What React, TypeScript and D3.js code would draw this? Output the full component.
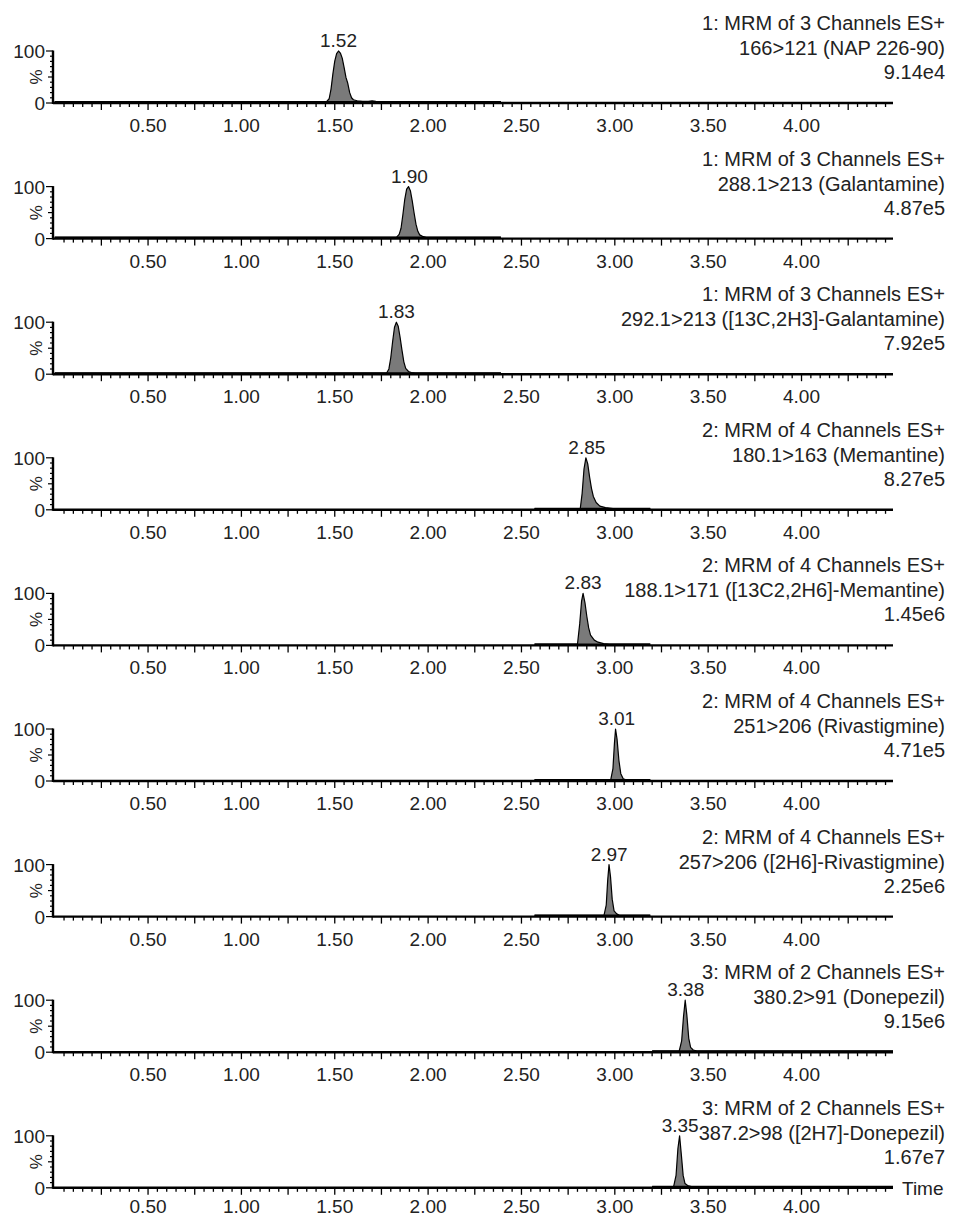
import React from 'react';
import * as d3 from 'd3';

// ---------- data ----------
const timeTickValues = [0.5, 1.0, 1.5, 2.0, 2.5, 3.0, 3.5, 4.0];
const timeDomain: [number, number] = [0, 4.49];

const channelHeaders = [
  '1: MRM of 3 Channels ES+',
  '1: MRM of 3 Channels ES+',
  '1: MRM of 3 Channels ES+',
  '2: MRM of 4 Channels ES+',
  '2: MRM of 4 Channels ES+',
  '2: MRM of 4 Channels ES+',
  '2: MRM of 4 Channels ES+',
  '3: MRM of 2 Channels ES+',
  '3: MRM of 2 Channels ES+',
];
const transitions = [
  '166>121 (NAP 226-90)',
  '288.1>213 (Galantamine)',
  '292.1>213 ([13C,2H3]-Galantamine)',
  '180.1>163 (Memantine)',
  '188.1>171 ([13C2,2H6]-Memantine)',
  '251>206 (Rivastigmine)',
  '257>206 ([2H6]-Rivastigmine)',
  '380.2>91 (Donepezil)',
  '387.2>98 ([2H7]-Donepezil)',
];
const maxIntensities = ['9.14e4', '4.87e5', '7.92e5', '8.27e5', '1.45e6', '4.71e5', '2.25e6', '9.15e6', '1.67e7'];
const peakTimes = [1.52, 1.9, 1.83, 2.85, 2.83, 3.01, 2.97, 3.38, 3.35];
const scanWindows: [number, number][] = [
  [0, 2.39], [0, 2.39], [0, 2.39],
  [2.57, 3.19], [2.57, 3.19], [2.57, 3.19], [2.57, 3.19],
  [3.2, 4.49], [3.2, 4.49],
];

// peak profiles: [time (min), relative intensity (%)]
const napPeak: [number, number][] = [
  [1.455, 0], [1.47, 6], [1.48, 25], [1.49, 55], [1.50, 80], [1.51, 95], [1.52, 100], [1.53, 96],
  [1.54, 86], [1.55, 68], [1.56, 48], [1.57, 36], [1.58, 18], [1.59, 8], [1.60, 4], [1.62, 2],
  [1.65, 1], [1.68, 1], [1.70, 2], [1.72, 1], [1.75, 0],
];
const galantaminePeak: [number, number][] = [
  [1.83, 0], [1.845, 6], [1.855, 18], [1.865, 45], [1.875, 75], [1.885, 95], [1.895, 100],
  [1.905, 92], [1.915, 72], [1.925, 48], [1.935, 26], [1.945, 12], [1.955, 5], [1.97, 2],
  [1.99, 0],
];
const galantamineISPeak: [number, number][] = [
  [1.778, 0], [1.79, 8], [1.80, 30], [1.81, 62], [1.82, 90], [1.83, 100], [1.84, 92],
  [1.85, 70], [1.86, 45], [1.87, 22], [1.88, 9], [1.895, 3], [1.91, 1], [1.93, 0],
];
const memantinePeak: [number, number][] = [
  [2.815, 0], [2.825, 30], [2.835, 78], [2.845, 100], [2.855, 88], [2.865, 62], [2.875, 40],
  [2.885, 24], [2.90, 12], [2.92, 5], [2.95, 2], [2.99, 0],
];
const memantineISPeak: [number, number][] = [
  [2.80, 0], [2.812, 40], [2.822, 85], [2.83, 100], [2.84, 82], [2.85, 55], [2.86, 32],
  [2.87, 18], [2.89, 8], [2.91, 4], [2.94, 1], [2.97, 0],
];
const rivastigminePeak: [number, number][] = [
  [2.978, 0], [2.99, 22], [2.998, 72], [3.004, 100], [3.012, 80], [3.022, 38], [3.032, 12],
  [3.045, 2], [3.06, 0],
];
const rivastigmineISPeak: [number, number][] = [
  [2.942, 0], [2.954, 20], [2.962, 70], [2.969, 100], [2.977, 76], [2.986, 32], [2.996, 9],
  [3.01, 3], [3.025, 0],
];
const donepezilPeak: [number, number][] = [
  [3.345, 0], [3.358, 20], [3.368, 68], [3.377, 100], [3.386, 70], [3.396, 25], [3.406, 7],
  [3.42, 2], [3.44, 0],
];
const donepezilISPeak: [number, number][] = [
  [3.315, 0], [3.328, 22], [3.338, 75], [3.347, 100], [3.356, 64], [3.366, 22], [3.376, 6],
  [3.39, 2], [3.41, 0],
];
const peaks = [
  napPeak, galantaminePeak, galantamineISPeak, memantinePeak, memantineISPeak,
  rivastigminePeak, rivastigmineISPeak, donepezilPeak, donepezilISPeak,
];

// ---------- layout ----------
const W = 955;
const H = 1218;
const FONT = "'Liberation Sans', Arial, Helvetica, sans-serif";
const FS = 19;
const HFS = 20;
const TEXT = '#222';

function Panel({ i, base }: { i: number; base: number }) {
  const x = d3.scaleLinear().domain(timeDomain).range([54.7, 893]);
  const yAxis = d3.scaleLinear().domain([0, 100]).range([base, base - 52]);
  const y = d3.scaleLinear().domain([0, 100]).range([base - 1.2, base - 52]);

  const [w0, w1] = scanWindows[i];
  const pts: [number, number][] = [[w0, 0], ...peaks[i], [w1, 0]];
  const area = d3.area<[number, number]>().x(d => x(d[0])).y0(y(0)).y1(d => y(d[1]));
  const line = d3.line<[number, number]>().x(d => x(d[0])).y(d => y(d[1]));

  const minor = d3.range(1, 90).map(k => k * 0.05);
  const yMinor = d3.range(0, 11).map(k => k * 10);
  const axisLeft = 53;
  const axisRight = 893;
  const labelY = Math.min(base + 29, H - 5);

  return (
    <g>
      {/* trace */}
      <path d={area(pts) || ''} fill="#7a7a7a" stroke="none" />
      <path d={line(pts) || ''} fill="none" stroke="#000" strokeWidth={1.2} strokeLinejoin="round" />
      <line x1={x(w0)} x2={x(w1)} y1={base - 1.2} y2={base - 1.2} stroke="#000" strokeWidth={1.6} />

      {/* x axis */}
      <line x1={axisLeft} x2={axisRight} y1={base} y2={base} stroke="#000" strokeWidth={2.4} />
      {minor.map((t, k) => {
        const major = Math.abs(t / 0.25 - Math.round(t / 0.25)) < 1e-6;
        return (
          <line key={k} x1={x(t)} x2={x(t)} y1={base} y2={base + (major ? 7 : 4)} stroke="#000" strokeWidth={1.3} />
        );
      })}
      {timeTickValues.map(t => (
        <text key={t} x={x(t)} y={labelY} textAnchor="middle" fontFamily={FONT} fontSize={FS} fill={TEXT}>
          {t.toFixed(2)}
        </text>
      ))}

      {/* y axis */}
      <line x1={axisLeft} x2={axisLeft} y1={yAxis(100) - 0.5} y2={base + 1} stroke="#000" strokeWidth={2.4} />
      {yMinor.map(v => {
        const len = v === 0 || v === 100 ? 7 : v === 50 ? 5 : 3;
        return (
          <line key={v} x1={axisLeft - len} x2={axisLeft} y1={yAxis(v)} y2={yAxis(v)} stroke="#000" strokeWidth={1.2} />
        );
      })}
      <text x={45} y={yAxis(100) + 7} textAnchor="end" fontFamily={FONT} fontSize={FS} fill={TEXT}>100</text>
      <text x={45} y={yAxis(0) + 7} textAnchor="end" fontFamily={FONT} fontSize={FS} fill={TEXT}>0</text>
      <text
        transform={`translate(${42},${yAxis(50)}) rotate(-90)`}
        textAnchor="middle"
        fontFamily={FONT}
        fontSize={FS - 2}
        fill={TEXT}
      >
        %
      </text>

      {/* peak label */}
      <text x={x(peakTimes[i])} y={yAxis(100) - 4} textAnchor="middle" fontFamily={FONT} fontSize={FS} fill={TEXT}>
        {peakTimes[i].toFixed(2)}
      </text>

      {/* header */}
      <text x={945} y={base - 73} textAnchor="end" fontFamily={FONT} fontSize={HFS} fill={TEXT}>{channelHeaders[i]}</text>
      <text x={945} y={base - 48} textAnchor="end" fontFamily={FONT} fontSize={HFS} fill={TEXT}>{transitions[i]}</text>
      <text x={945} y={base - 24} textAnchor="end" fontFamily={FONT} fontSize={HFS} fill={TEXT}>{maxIntensities[i]}</text>
    </g>
  );
}

export default function App() {
  const bases = channelHeaders.map((_, i) => 103 + i * 135.6);
  const last = bases[bases.length - 1];
  return (
    <svg
      width={W}
      height={H}
      viewBox={`0 0 ${W} ${H}`}
      style={{ position: 'absolute', left: 0, top: 0, background: '#fff' }}
    >
      <rect x={0} y={0} width={W} height={H} fill="#fff" />
      {bases.map((b, i) => (
        <Panel key={i} i={i} base={b} />
      ))}
      <text x={902} y={last + 7} fontFamily={FONT} fontSize={FS} fill={TEXT}>Time</text>
    </svg>
  );
}
